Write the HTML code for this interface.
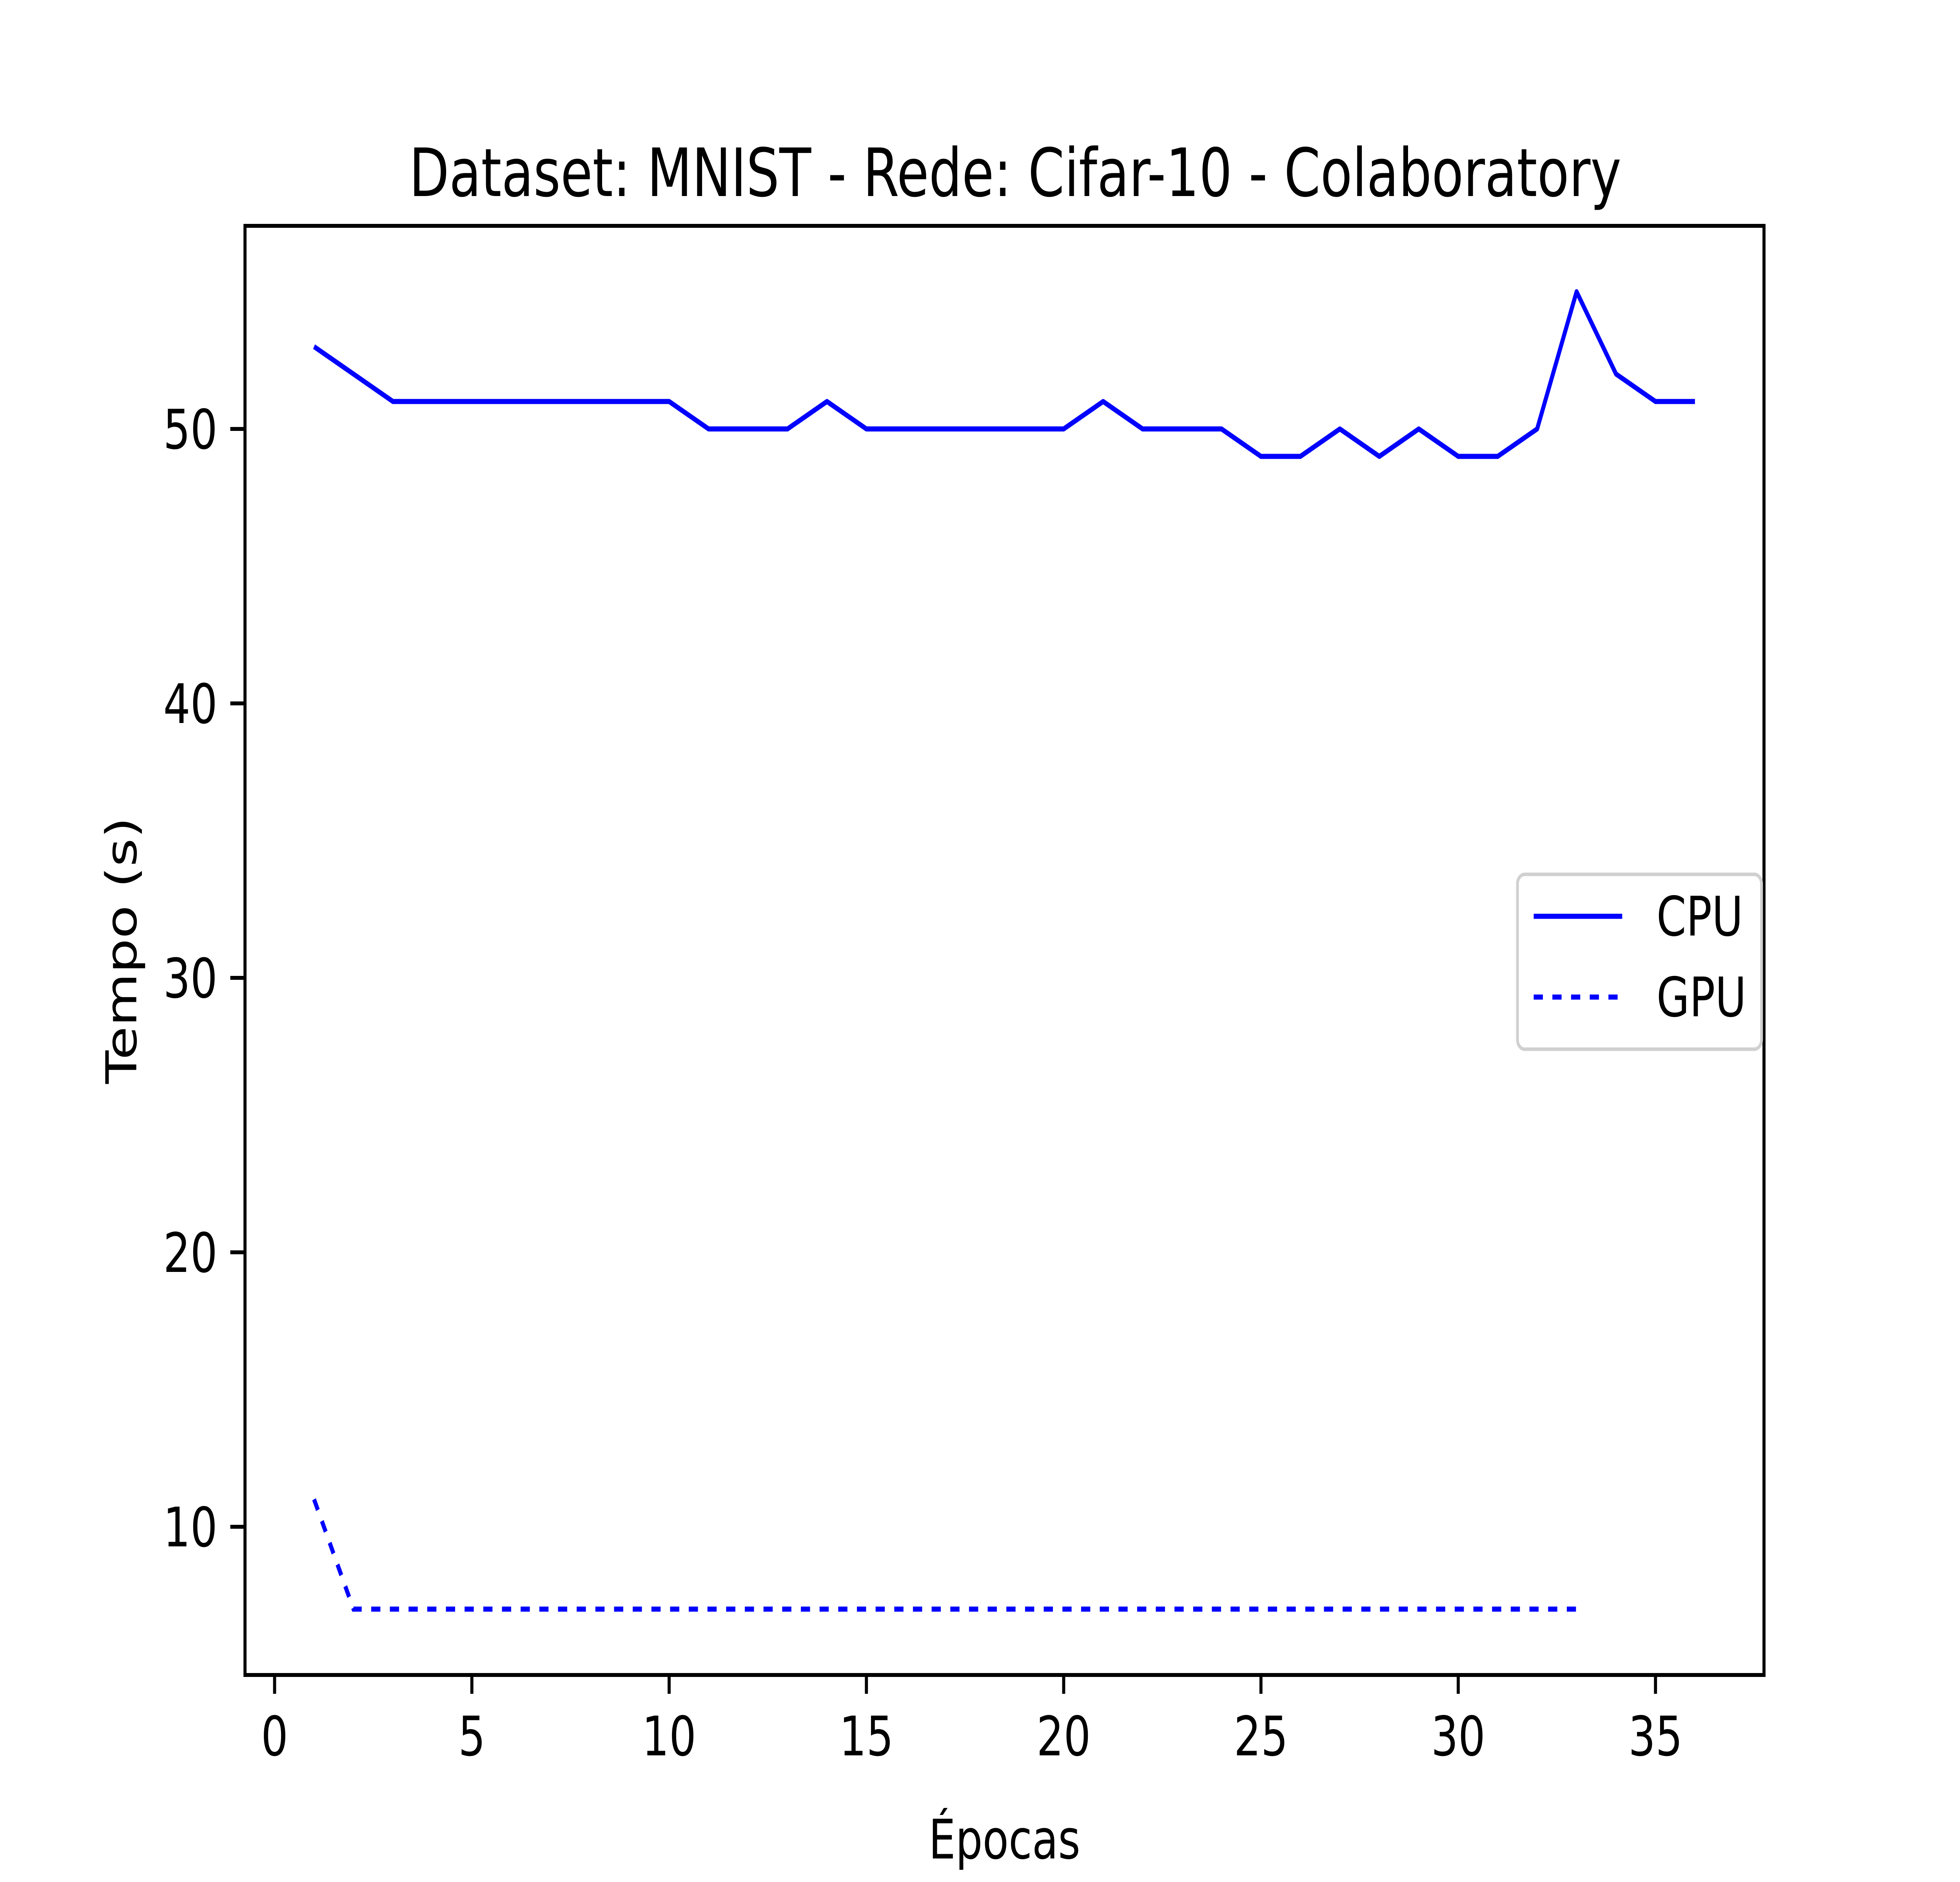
<!DOCTYPE html>
<html><head><meta charset="utf-8"><style>html,body{margin:0;padding:0;background:#fff;overflow:hidden;width:100%;height:100%}svg{display:block;position:fixed;left:0;top:0;width:100vw;height:100vh}</style></head>
<body>
<svg id="chart" viewBox="0 0 6400 4800" preserveAspectRatio="none" xmlns="http://www.w3.org/2000/svg" font-family="'DejaVu Sans','Liberation Sans',sans-serif">
<rect width="6400" height="4800" fill="#fff"/>
<text x="3315" y="500" font-size="170" text-anchor="middle">Dataset: MNIST - Rede: Cifar-10 - Colaboratory</text>
<g id="plot"></g>
<text x="3280" y="4740" font-size="139" text-anchor="middle">Épocas</text>
<text transform="translate(445,2424) rotate(-90)" font-size="139" text-anchor="middle">Tempo (s)</text>
<g>
<rect x="4955" y="2230" width="797" height="446" rx="24" fill="#fff" stroke="#d0d0d0" stroke-width="9"/>
<line x1="5008" y1="2337" x2="5297" y2="2337" stroke="#0000ff" stroke-width="13"/>
<text x="5409" y="2386" font-size="139">CPU</text>
<line x1="5008" y1="2543" x2="5297" y2="2543" stroke="#0000ff" stroke-width="13" stroke-dasharray="30 31"/>
<text x="5409" y="2592" font-size="139">GPU</text>
</g>
</svg>
<script>
const epochsCPU = [1,2,3,4,5,6,7,8,9,10,11,12,13,14,15,16,17,18,19,20,21,22,23,24,25,26,27,28,29,30,31,32,33,34,35,36];
const cpuValues = [53,52,51,51,51,51,51,51,51,51,50,50,50,51,50,50,50,50,50,50,51,50,50,50,49,49,50,49,50,49,49,50,55,52,51,51];
const epochsGPU = [1,2,3,4,5,6,7,8,9,10,11,12,13,14,15,16,17,18,19,20,21,22,23,24,25,26,27,28,29,30,31,32,33];
const gpuValues = [11,7,7,7,7,7,7,7,7,7,7,7,7,7,7,7,7,7,7,7,7,7,7,7,7,7,7,7,7,7,7,7,7];
const xTicks = [0,5,10,15,20,25,30,35];
const yTicks = [10,20,30,40,50];

const L=800,R=5760,T=576,B=4272;
const allX=epochsCPU.concat(epochsGPU), allY=cpuValues.concat(gpuValues);
const xmn=Math.min(...allX), xmx=Math.max(...allX), ymn=Math.min(...allY), ymx=Math.max(...allY);
const x0=xmn-(xmx-xmn)*0.05, x1=xmx+(xmx-xmn)*0.05, y0=ymn-(ymx-ymn)*0.05, y1=ymx+(ymx-ymn)*0.05;
const sx=v=>L+(v-x0)/(x1-x0)*(R-L);
const sy=v=>B-(v-y0)/(y1-y0)*(B-T);
const NS='http://www.w3.org/2000/svg';
const g=document.getElementById('plot');
function mk(t,a){const e=document.createElementNS(NS,t);for(const k in a)e.setAttribute(k,a[k]);g.appendChild(e);return e;}
const cpu=mk('polyline',{points:epochsCPU.map((x,i)=>sx(x)+','+sy(cpuValues[i])).join(' '),fill:'none',stroke:'#0000ff','stroke-width':13,'stroke-linejoin':'round'});


const gpu=mk('polyline',{points:epochsGPU.map((x,i)=>sx(x)+','+sy(gpuValues[i])).join(' '),fill:'none',stroke:'#0000ff','stroke-width':13,'stroke-dasharray':'30 31'});


xTicks.forEach(v=>{
  const l=mk('line',{x1:sx(v),x2:sx(v),y1:B,y2:B+48,stroke:'#000','stroke-width':10});
  
  
  const t=mk('text',{x:sx(v),y:B+205,'font-size':139,'text-anchor':'middle'});t.textContent=v;
  
  
});
yTicks.forEach(v=>{
  const l=mk('line',{x1:L-48,x2:L,y1:sy(v),y2:sy(v),stroke:'#000','stroke-width':10});
  
  
  const t=mk('text',{x:L-90,y:sy(v)+50,'font-size':139,'text-anchor':'end'});t.textContent=v;
  
  
});
const f=mk('rect',{x:L,y:T,width:R-L,height:B-T,fill:'none',stroke:'#000','stroke-width':10});


</script>
</body></html>
